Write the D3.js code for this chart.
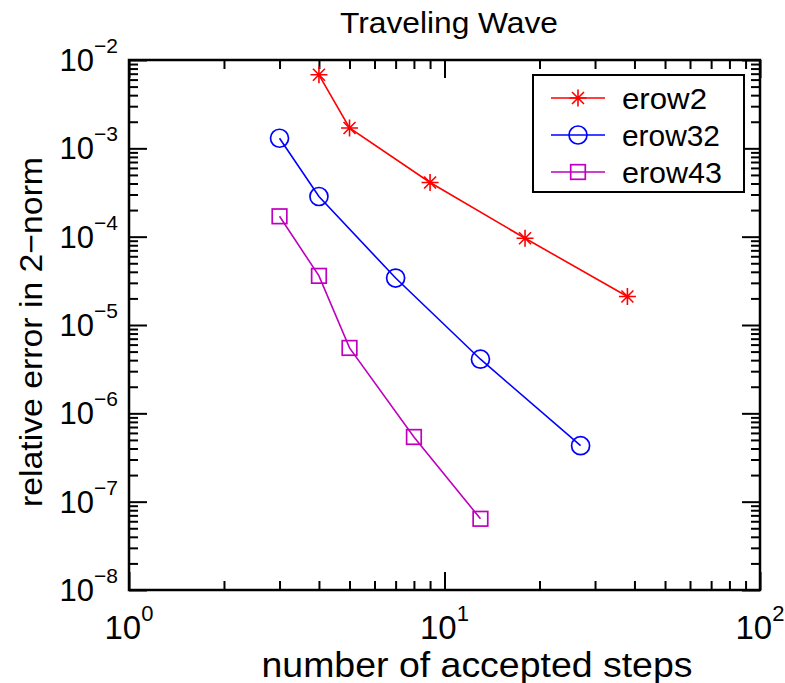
<!DOCTYPE html>
<html>
<head>
<meta charset="utf-8">
<script src="https://cdn.jsdelivr.net/npm/d3@7"></script>
<style>
  html, body { margin: 0; padding: 0; background: #fff; }
  svg { display: block; font-family: "Liberation Sans", Arial, Helvetica, sans-serif; }
</style>
</head>
<body>
<svg id="chart" width="785" height="683"></svg>
<script>
// Convergence data: accepted steps vs. relative error (2-norm)
const seriesNames = ["erow2", "erow32", "erow43"];
const steps2  = [4, 5, 9, 18, 38];
const err2    = [6.8e-3, 1.7e-3, 4.1e-4, 9.6e-5, 2.1e-5];
const steps32 = [3, 4, 7, 13, 27];
const err32   = [1.3e-3, 2.85e-4, 3.4e-5, 4.1e-6, 4.3e-7];
const steps43 = [3, 4, 5, 8, 13];
const err43   = [1.7e-4, 3.6e-5, 5.5e-6, 5.4e-7, 6.4e-8];

const xTickExps = [0, 1, 2];
const yTickExps = [-8, -7, -6, -5, -4, -3, -2];

const titleText = "Traveling Wave";
const xLabelText = "number of accepted steps";
const yLabelText = "relative error in 2\u2212norm";

const colors = ["#ff0000", "#0000ff", "#bf00bf"];
const markers = ["star", "circle", "square"];

const svg = d3.select("#chart");
const L = 129, R = 760, T = 60, B = 590;

const x = d3.scaleLog().domain([1, 100]).range([L, R]);
const y = d3.scaleLog().domain([1e-8, 1e-2]).range([B, T]);

const xMajor = xTickExps.map(e => Math.pow(10, e));
const yMajor = yTickExps.map(e => Math.pow(10, e));
const minorOf = (lo, hi) => {
  const out = [];
  for (let e = lo; e < hi; e++) for (let k = 2; k <= 9; k++) out.push(k * Math.pow(10, e));
  return out;
};
const xMinor = minorOf(0, 2);
const yMinor = minorOf(-8, -2);

// Tick marks on all four sides, pointing inward
function tickAxis(axisFn, scale, vals, len, transform) {
  const g = svg.append("g").attr("transform", transform)
    .call(axisFn(scale).tickValues(vals).tickSize(len).tickFormat(""));
  g.select(".domain").remove();
  g.selectAll(".tick line").attr("stroke", "#000").attr("stroke-width", 2);
}
tickAxis(d3.axisBottom, x, xMajor, -18, `translate(0,${B})`);
tickAxis(d3.axisBottom, x, xMinor, -9, `translate(0,${B})`);
tickAxis(d3.axisTop, x, xMajor, -18, `translate(0,${T})`);
tickAxis(d3.axisTop, x, xMinor, -9, `translate(0,${T})`);
tickAxis(d3.axisLeft, y, yMajor, -18, `translate(${L},0)`);
tickAxis(d3.axisLeft, y, yMinor, -9, `translate(${L},0)`);
tickAxis(d3.axisRight, y, yMajor, -18, `translate(${R},0)`);
tickAxis(d3.axisRight, y, yMinor, -9, `translate(${R},0)`);

// Frame
svg.append("rect").attr("x", L).attr("y", T).attr("width", R - L).attr("height", B - T)
  .attr("fill", "none").attr("stroke", "#000").attr("stroke-width", 2.5);

// Tick labels as 10 with superscript exponent
const expStr = e => (e < 0 ? "\u2212" + (-e) : String(e));
xTickExps.forEach(e => {
  const t = svg.append("text").attr("x", x(Math.pow(10, e))).attr("y", 639)
    .attr("text-anchor", "middle").attr("font-size", 33).attr("fill", "#000");
  t.append("tspan").text("10");
  t.append("tspan").attr("font-size", 22).attr("dy", -18).text(expStr(e));
});
yTickExps.forEach(e => {
  const t = svg.append("text").attr("x", 118).attr("y", y(Math.pow(10, e)) + 11)
    .attr("text-anchor", "end").attr("font-size", 31).attr("fill", "#000");
  t.append("tspan").text("10");
  t.append("tspan").attr("font-size", 21).attr("dy", -18).text(expStr(e));
});

// Title and axis labels
svg.append("text").attr("x", 449).attr("y", 33).attr("text-anchor", "middle")
  .attr("font-size", 30).attr("textLength", 218).attr("lengthAdjust", "spacingAndGlyphs")
  .text(titleText);
svg.append("text").attr("x", 477).attr("y", 677).attr("text-anchor", "middle")
  .attr("font-size", 35).attr("textLength", 431).attr("lengthAdjust", "spacingAndGlyphs")
  .text(xLabelText);
svg.append("text").attr("transform", "translate(42,332) rotate(-90)").attr("text-anchor", "middle")
  .attr("font-size", 32).attr("textLength", 350).attr("lengthAdjust", "spacingAndGlyphs")
  .text(yLabelText);

// Marker drawing
function drawMarker(g, type, cx, cy, color) {
  if (type === "star") {
    const r = 8.5, d = 6;
    const p = `M${cx - r},${cy}H${cx + r}M${cx},${cy - r}V${cy + r}` +
      `M${cx - d},${cy - d}L${cx + d},${cy + d}M${cx - d},${cy + d}L${cx + d},${cy - d}`;
    g.append("path").attr("d", p).attr("stroke", color).attr("stroke-width", 1.6).attr("fill", "none");
  } else if (type === "circle") {
    g.append("circle").attr("cx", cx).attr("cy", cy).attr("r", 9)
      .attr("stroke", color).attr("stroke-width", 1.7).attr("fill", "none");
  } else {
    g.append("rect").attr("x", cx - 7.3).attr("y", cy - 7.3).attr("width", 14.6).attr("height", 14.6)
      .attr("stroke", color).attr("stroke-width", 1.7).attr("fill", "none");
  }
}

const series = [
  { steps: steps2, err: err2 },
  { steps: steps32, err: err32 },
  { steps: steps43, err: err43 }
];
const line = d3.line().x(d => x(d[0])).y(d => y(d[1]));
series.forEach((s, i) => {
  const pts = s.steps.map((v, j) => [v, s.err[j]]);
  const g = svg.append("g");
  g.append("path").attr("d", line(pts)).attr("fill", "none")
    .attr("stroke", colors[i]).attr("stroke-width", 1.6);
  pts.forEach(p => drawMarker(g, markers[i], x(p[0]), y(p[1]), colors[i]));
});

// Legend
const lg = svg.append("g");
lg.append("rect").attr("x", 533).attr("y", 75).attr("width", 211).attr("height", 117)
  .attr("fill", "#fff").attr("stroke", "#000").attr("stroke-width", 2);
const rowY = [98, 135, 172];
const legendW = [85, 98, 100];
seriesNames.forEach((name, i) => {
  const yy = rowY[i];
  lg.append("line").attr("x1", 551).attr("x2", 605).attr("y1", yy).attr("y2", yy)
    .attr("stroke", colors[i]).attr("stroke-width", 1.6);
  drawMarker(lg, markers[i], 578, yy, colors[i]);
  lg.append("text").attr("x", 622).attr("y", yy + 11).attr("font-size", 30)
    .attr("textLength", legendW[i]).attr("lengthAdjust", "spacingAndGlyphs").text(name);
});
</script>
</body>
</html>
